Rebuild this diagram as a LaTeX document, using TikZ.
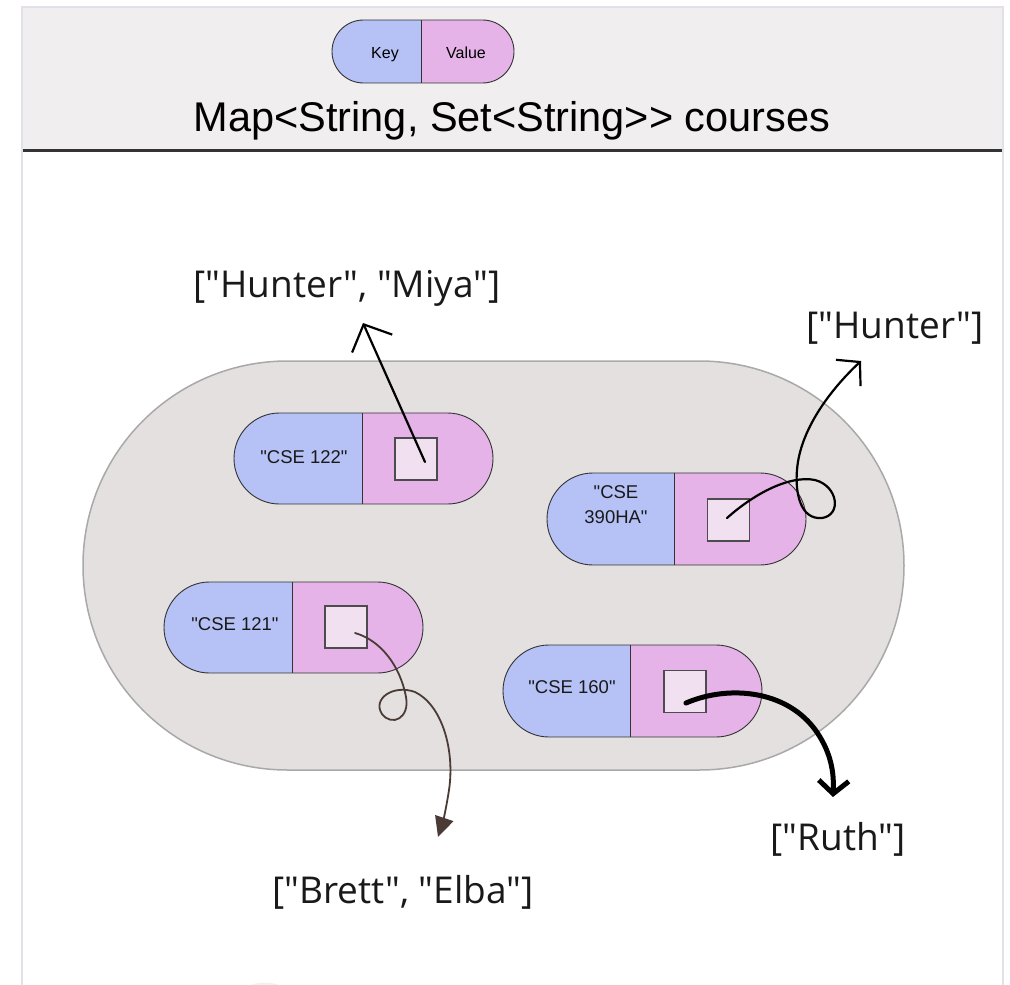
\documentclass[tikz,border=0pt]{standalone}
\usepackage{fontspec}
\newfontfamily\plainfont{Liberation Sans}
\newfontfamily\labelfont{Open Sans}
\usetikzlibrary{arrows.meta}

\definecolor{headfill}{HTML}{F0EEEF}
\definecolor{framegray}{HTML}{E2E1E8}
\definecolor{ruleline}{HTML}{333333}
\definecolor{mapfill}{HTML}{E3E0DF}
\definecolor{mapedge}{HTML}{A9A9A9}
\definecolor{keyfill}{HTML}{B6C2F6}
\definecolor{valfill}{HTML}{E6B3E8}
\definecolor{slotfill}{HTML}{F1E0F0}
\definecolor{slotedge}{HTML}{4D4B4D}
\definecolor{brown}{HTML}{4A3B36}

% two-coloured capsule: x1, y1, x2, y2, x of the divider
\newcommand{\keyvalpill}[5]{%
  \pgfmathsetmacro\pillrad{(#4-#2)/2}%
  \begin{scope}
    \clip[rounded corners=\pillrad pt] (#1,#2) rectangle (#3,#4);
    \fill[keyfill] (#1,#2) rectangle (#5,#4);
    \fill[valfill] (#5,#2) rectangle (#3,#4);
  \end{scope}
  \draw[pilledge, rounded corners=\pillrad pt] (#1,#2) rectangle (#3,#4);
  \draw[pilledge] (#5,#2) -- (#5,#4);
}

\begin{document}
\begin{tikzpicture}[x=1pt,y=-1pt,
  pilledge/.style={draw=ruleline, line width=0.9pt},
  slot/.style={draw=slotedge, fill=slotfill, line width=1.6pt,
    minimum size=42pt, inner sep=0pt},
  keytext/.style={font=\plainfont\fontsize{18.5}{25}\selectfont,
    text=black!90, inner sep=0pt, align=center},
  settext/.style={font=\labelfont\fontsize{37}{44}\selectfont,
    text=black!90, inner sep=0pt, anchor=base},
  ptr/.style={line width=2.2pt, line cap=round, black},
  ]
\useasboundingbox (0,0) rectangle (1010,985);
\fill[white] (0,0) rectangle (1010,985);

% page frame and header band
\fill[headfill] (22,7) rectangle (1003,150);
\draw[framegray, line width=1.6pt] (22,985) -- (22,7) -- (1003,7) -- (1003,985);
\draw[ruleline, line width=2.5pt] (23,150.5) -- (1002,150.5);
\fill[black!6] (247,988) .. controls (250,981) and (280,981) .. (283,988) -- cycle;

% legend
\keyvalpill{332}{20}{514}{83}{421}
\node[font=\plainfont\fontsize{16}{20}\selectfont, anchor=base, inner sep=0pt] (lgkey) at (385,58) {Key};
\node[font=\plainfont\fontsize{16}{20}\selectfont, anchor=base, inner sep=0pt] (lgval) at (466,58) {Value};

% title
\node[font=\plainfont\fontsize{41.5}{48}\selectfont, anchor=base, inner sep=0pt] (title)
  at (512,131) {Map<String, Set<String>{}> courses};

% the map
\draw[mapedge, fill=mapfill, line width=1.5pt, rounded corners=204.5pt]
  (83,361) rectangle (904,770);

% entries
\keyvalpill{234}{413}{493}{504}{362}
\node[slot] (box122) at (416,459) {};
\node[keytext, anchor=base] (k122) at (304,463) {"CSE 122"};

\keyvalpill{547}{473}{806}{565}{674}
\node[slot] (box390) at (728.5,520) {};
\node[keytext, anchor=base] (k390) at (616,523) {"CSE\\[-0.5pt]390HA"};

\keyvalpill{164}{582}{423}{673}{292}
\node[slot] (box121) at (346,627) {};
\node[keytext, anchor=base] (k121) at (235,630) {"CSE 121"};

\keyvalpill{503}{645}{762}{737}{630}
\node[slot] (box160) at (685,691.5) {};
\node[keytext, anchor=base] (k160) at (572,693) {"CSE 160"};

% set values
\node[settext] (miya) at (347,297) {["Hunter", "Miya"]};
\node[settext] (hunter) at (895,338) {["Hunter"]};
\node[settext] (ruth) at (838,850) {["Ruth"]};
\node[settext] (brett) at (403,903) {["Brett", "Elba"]};

% pointer ends
\coordinate (p122) at (425,462);
\coordinate (p390) at (727,518);
\coordinate (p121) at (355,633);
\coordinate (p160) at (686,703);
\coordinate (t122) at (363,323);
\coordinate (t390) at (861,361);
\coordinate (t121) at (438,837);
\coordinate (t160) at (833,797);

% pointers
\draw[ptr, -{Straight Barb[length=21pt,width=44pt,line width=2.2pt]}]
  (p122) -- (t122);

\draw[ptr, -{Straight Barb[length=16pt,width=36pt,line width=2.2pt]}]
  (p390) .. controls (755,493) and (790,475) .. (815,480)
  .. controls (838,486) and (842,515) .. (822,518)
  .. controls (800,520) and (795,492) .. (797,470)
  .. controls (800,430) and (830,390) .. (t390);

\draw[line width=1.8pt, line cap=round, brown,
    -{Triangle[length=20pt,width=19pt]}]
  (p121) .. controls (380,640) and (400,665) .. (406,697)
  .. controls (410,718) and (392,727) .. (382,714)
  .. controls (372,699) and (393,684) .. (415,692)
  .. controls (442,705) and (455,750) .. (449,790)
  .. controls (446,810) and (442,825) .. (t121);

\draw[line width=5pt, line cap=round, black,
    -{Straight Barb[length=13pt,width=30pt,line width=5pt]}]
  (p160) .. controls (730,684) and (792,690) .. (820,737)
  .. controls (832,757) and (834,775) .. (t160);

\end{tikzpicture}
\end{document}
